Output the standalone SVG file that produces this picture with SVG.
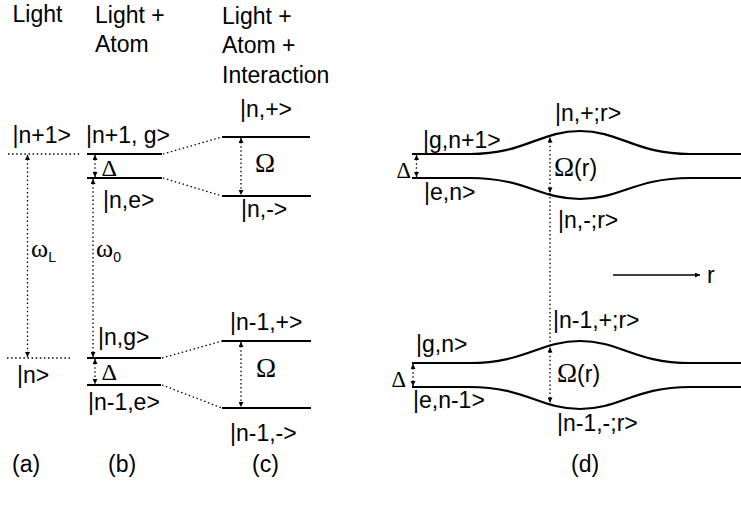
<svg xmlns="http://www.w3.org/2000/svg" width="741" height="509" viewBox="0 0 741 509">
<defs>
<marker id="ah" viewBox="0 0 10 10" refX="10" refY="5" markerWidth="7" markerHeight="5" markerUnits="userSpaceOnUse" orient="auto-start-reverse">
<path d="M0,0 L10,5 L0,10 z" fill="#000"/>
</marker>
<style>
text{font-family:"Liberation Sans",Arial,sans-serif;font-size:23px;fill:#000}
.sym{font-family:"Liberation Serif","Times New Roman",serif}
.om{font-size:27px}
.lvl{stroke:#000;stroke-width:2.2;fill:none}
.dot{stroke:#000;stroke-width:1.3;stroke-dasharray:1.5 2.6;fill:none}
.arr{stroke:#000;stroke-width:1.3;stroke-dasharray:1.5 2.6;fill:none;marker-start:url(#ah);marker-end:url(#ah)}
.sub{font-size:14px}
</style>
</defs>
<rect width="741" height="509" fill="#fff"/>

<g id="headers">
<text x="12.5" y="22">Light</text>
<text x="95" y="23">Light +</text>
<text x="95" y="52">Atom</text>
<text x="222" y="24">Light +</text>
<text x="222" y="53">Atom +</text>
<text x="222" y="83">Interaction</text>
</g>

<g id="panel-a">
<text x="12.5" y="143">|n+1&gt;</text>
<text x="17" y="383">|n&gt;</text>
<text x="31" y="256.5"><tspan class="sym" font-size="26">ω</tspan><tspan class="sub" dx="0" dy="5">L</tspan></text>
</g>

<g id="panel-b">
<text x="86" y="143">|n+1, g&gt;</text>
<text x="103" y="208">|n,e&gt;</text>
<text x="98" y="345">|n,g&gt;</text>
<text x="88" y="410">|n-1,e&gt;</text>
<text x="96" y="256.5"><tspan class="sym" font-size="26">ω</tspan><tspan class="sub" dx="0" dy="5">0</tspan></text>
<text class="sym" x="101.5" y="176" font-size="21" textLength="15.5" lengthAdjust="spacingAndGlyphs">Δ</text>
<text class="sym" x="101.5" y="379.5" font-size="21" textLength="15.5" lengthAdjust="spacingAndGlyphs">Δ</text>
<line class="lvl" x1="87" y1="154" x2="162" y2="154"/>
<line class="lvl" x1="87" y1="178" x2="162" y2="178"/>
<line class="lvl" x1="87" y1="358" x2="161" y2="358"/>
<line class="lvl" x1="87" y1="385" x2="161" y2="385"/>
</g>

<g id="panel-c">
<text x="240" y="117">|n,+&gt;</text>
<text x="241" y="217">|n,-&gt;</text>
<text x="230" y="330">|n-1,+&gt;</text>
<text x="230" y="441">|n-1,-&gt;</text>
<text class="sym om" x="255" y="172">Ω</text>
<text class="sym om" x="256" y="377">Ω</text>
<line class="lvl" x1="222" y1="137" x2="310" y2="137"/>
<line class="lvl" x1="222" y1="196" x2="311" y2="196"/>
<line class="lvl" x1="222" y1="341" x2="311" y2="341"/>
<line class="lvl" x1="222" y1="408" x2="311" y2="408"/>
</g>

<g id="panel-d">
<text x="423" y="148">|g,n+1&gt;</text>
<text x="424" y="200">|e,n&gt;</text>
<text x="555" y="121">|n,+;r&gt;</text>
<text x="558" y="228">|n,-;r&gt;</text>
<text x="554" y="176"><tspan class="sym om">Ω</tspan>(r)</text>
<text class="sym" x="396.5" y="177.5" font-size="18" textLength="14.5" lengthAdjust="spacingAndGlyphs">Δ</text>
<path class="lvl" d="M412,154 L470,154 C525,154 540,131 580,131 C620,131 635,154 690,154 L741,154"/>
<path class="lvl" d="M412,178 L470,178 C525,178 540,199 580,199 C620,199 635,178 690,178 L741,178"/>

<text x="553" y="328">|n-1,+;r&gt;</text>
<text x="416" y="352">|g,n&gt;</text>
<text x="557" y="382"><tspan class="sym om">Ω</tspan>(r)</text>
<text x="413" y="408">|e,n-1&gt;</text>
<text x="557" y="431">|n-1,-;r&gt;</text>
<text class="sym" x="391.5" y="387" font-size="18" textLength="14.5" lengthAdjust="spacingAndGlyphs">Δ</text>
<path class="lvl" d="M412,363 L470,363 C525,363 540,341 580,341 C620,341 635,363 690,363 L741,363"/>
<path class="lvl" d="M412,387 L470,387 C525,387 540,409 580,409 C620,409 635,387 690,387 L741,387"/>

<text x="707" y="283">r</text>
</g>

<g id="labels">
<text x="12" y="472">(a)</text>
<text x="108" y="472">(b)</text>
<text x="252" y="472">(c)</text>
<text x="571" y="472">(d)</text>
</g>

<g id="connectors">
<line class="dot" x1="8" y1="154" x2="80" y2="154"/>
<line class="dot" x1="7" y1="358" x2="72" y2="358"/>
<line class="arr" x1="27.5" y1="155" x2="27.5" y2="357"/>
<line class="arr" x1="93" y1="179" x2="93" y2="357"/>
<line class="arr" x1="95" y1="155" x2="95" y2="177"/>
<line class="arr" x1="95" y1="359" x2="95" y2="384"/>
<line class="dot" x1="163" y1="154" x2="222" y2="137"/>
<line class="dot" x1="163" y1="178" x2="222" y2="196"/>
<line class="dot" x1="162" y1="358" x2="222" y2="341"/>
<line class="dot" x1="162" y1="385" x2="222" y2="408"/>
<line class="arr" x1="241" y1="138" x2="241" y2="195"/>
<line class="arr" x1="241" y1="342" x2="241" y2="407"/>
<line class="arr" x1="416.5" y1="155" x2="416.5" y2="177"/>
<line class="arr" x1="413" y1="364" x2="413" y2="386"/>
<line class="arr" x1="550" y1="137.5" x2="550" y2="192.5"/>
<line class="dot" x1="550" y1="193" x2="550" y2="347"/>
<line class="arr" x1="550" y1="347.5" x2="550" y2="402.5"/>
<line x1="613" y1="275" x2="700" y2="275" stroke="#000" stroke-width="1.3" marker-end="url(#ah)"/>
</g>
</svg>
